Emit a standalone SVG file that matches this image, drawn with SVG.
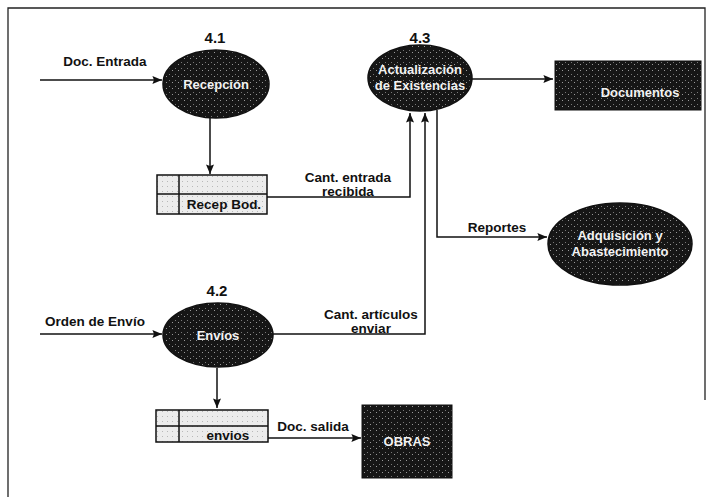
<svg xmlns="http://www.w3.org/2000/svg" width="723" height="497" viewBox="0 0 723 497">
<defs>
<marker id="ah" viewBox="0 0 12 10" refX="12" refY="5" markerWidth="12" markerHeight="8" markerUnits="userSpaceOnUse" orient="auto">
<path d="M0,0 L12,5 L0,10 L2,5 Z" fill="#111"/>
</marker>
<pattern id="spk" width="6" height="6" patternUnits="userSpaceOnUse">
<rect width="6" height="6" fill="#161616"/>
<rect x="1" y="2" width="1" height="1" fill="#777"/>
<rect x="4" y="4" width="1" height="1" fill="#999"/>
</pattern>
<pattern id="lt" width="5" height="5" patternUnits="userSpaceOnUse">
<rect width="5" height="5" fill="#ececec"/>
<rect x="2" y="1" width="1" height="1" fill="#b8b8b8"/>
</pattern>
</defs>
<style>
text{font-family:"Liberation Sans",Arial,sans-serif;font-weight:bold;font-size:13.5px;fill:#111}
.w{fill:#f2f2f2;font-size:13px}
.n{font-size:15px}
.proc{fill:url(#spk);stroke:#111;stroke-width:1.5}
.st{fill:url(#lt);stroke:#111;stroke-width:1.5}
.ln{fill:none;stroke:#111;stroke-width:1.5}
.ext{fill:url(#spk);stroke:#111;stroke-width:1}
</style>
<rect width="723" height="497" fill="#fff"/>
<path d="M8,497 L8,8 L705,8 L705,400" fill="none" stroke="#222" stroke-width="1.3"/>

<g id="connectors">
<line class="ln" x1="40" y1="80" x2="162" y2="80" marker-end="url(#ah)"/>
<line class="ln" x1="210" y1="118" x2="210" y2="174" marker-end="url(#ah)"/>
<polyline class="ln" points="267,197 410,197 410,113" marker-end="url(#ah)"/>
<polyline class="ln" points="273,334 425,334 425,113" marker-end="url(#ah)"/>
<polyline class="ln" points="437,110 437,237 547,237" marker-end="url(#ah)"/>
<line class="ln" x1="472" y1="79" x2="553" y2="79" marker-end="url(#ah)"/>
<line class="ln" x1="40" y1="334" x2="162" y2="334" marker-end="url(#ah)"/>
<line class="ln" x1="217" y1="368" x2="217" y2="408" marker-end="url(#ah)"/>
<line class="ln" x1="268" y1="438" x2="361" y2="438" marker-end="url(#ah)"/>
<text x="105" y="66" text-anchor="middle">Doc. Entrada</text>
<text x="348" y="182" text-anchor="middle">Cant. entrada</text>
<text x="348" y="196" text-anchor="middle">recibida</text>
<text x="497" y="232" text-anchor="middle">Reportes</text>
<text x="95" y="326" text-anchor="middle">Orden de Envío</text>
<text x="371" y="319" text-anchor="middle">Cant. artículos</text>
<text x="371" y="333" text-anchor="middle">enviar</text>
<text x="313" y="431" text-anchor="middle">Doc. salida</text>
</g>

<g id="p41">
<text class="n" x="215" y="43" text-anchor="middle">4.1</text>
<ellipse class="proc" cx="216" cy="84" rx="53" ry="34"/>
<text class="w" x="216" y="89" text-anchor="middle">Recepción</text>
</g>

<g id="p43">
<text class="n" x="420" y="43" text-anchor="middle">4.3</text>
<ellipse class="proc" cx="420" cy="78" rx="52" ry="33"/>
<text class="w" x="420" y="74" text-anchor="middle">Actualización</text>
<text class="w" x="420" y="90" text-anchor="middle">de Existencias</text>
</g>

<g id="archivo">
<rect class="ext" x="555" y="61" width="146" height="49"/>
<text class="w" x="640" y="97" text-anchor="middle">Documentos</text>
</g>

<g id="store1">
<rect class="st" x="157" y="175" width="110" height="39"/>
<line class="ln" x1="179" y1="175" x2="179" y2="214"/>
<line class="ln" x1="157" y1="194" x2="267" y2="194"/>
<text x="224" y="209" text-anchor="middle">Recep Bod.</text>
</g>

<g id="p2">
<text class="n" x="612" y="213" text-anchor="middle">2</text>
<ellipse class="proc" cx="620" cy="244" rx="72" ry="41"/>
<text class="w" x="620" y="240" text-anchor="middle">Adquisición y</text>
<text class="w" x="620" y="256" text-anchor="middle">Abastecimiento</text>
</g>

<g id="p42">
<text class="n" x="217" y="296" text-anchor="middle">4.2</text>
<ellipse class="proc" cx="218" cy="335" rx="55" ry="32"/>
<text class="w" x="218" y="340" text-anchor="middle">Envíos</text>
</g>

<g id="store2">
<rect class="st" x="156" y="410" width="112" height="32"/>
<line class="ln" x1="179" y1="410" x2="179" y2="442"/>
<line class="ln" x1="156" y1="426" x2="268" y2="426"/>
<text x="228" y="440" text-anchor="middle">envios</text>
</g>

<g id="obras">
<rect class="ext" x="362" y="405" width="90" height="73"/>
<text class="w" x="407" y="446" text-anchor="middle">OBRAS</text>
</g>
</svg>
